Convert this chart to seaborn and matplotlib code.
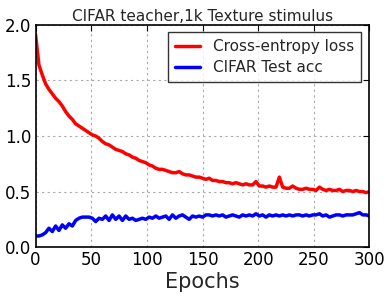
import numpy as np
import pandas as pd
import matplotlib
matplotlib.use("Agg")
import matplotlib.pyplot as plt
import seaborn as sns

epochs = list(range(0, 301, 3))
loss = [1.91, 1.64, 1.55, 1.47, 1.42, 1.38, 1.34, 1.31, 1.27, 1.22,
        1.18, 1.15, 1.11, 1.09, 1.07, 1.05, 1.03, 1.01, 1.00, 0.98,
        0.95, 0.93, 0.92, 0.90, 0.88, 0.87, 0.86, 0.84, 0.83, 0.81,
        0.80, 0.78, 0.77, 0.76, 0.74, 0.73, 0.71, 0.70, 0.70, 0.69,
        0.68, 0.67, 0.67, 0.68, 0.66, 0.65, 0.65, 0.64, 0.63, 0.63,
        0.62, 0.61, 0.62, 0.60, 0.60, 0.59, 0.59, 0.58, 0.58, 0.57,
        0.58, 0.57, 0.56, 0.57, 0.56, 0.56, 0.59, 0.55, 0.55, 0.54,
        0.55, 0.54, 0.54, 0.63, 0.54, 0.53, 0.53, 0.55, 0.53, 0.52,
        0.52, 0.53, 0.52, 0.52, 0.51, 0.54, 0.52, 0.51, 0.52, 0.51,
        0.51, 0.52, 0.50, 0.51, 0.51, 0.50, 0.51, 0.50, 0.50, 0.49,
        0.50]
acc = [0.10, 0.10, 0.11, 0.13, 0.17, 0.14, 0.19, 0.15, 0.20, 0.17,
       0.21, 0.19, 0.24, 0.26, 0.27, 0.27, 0.27, 0.26, 0.23, 0.26,
       0.25, 0.28, 0.24, 0.29, 0.25, 0.28, 0.24, 0.28, 0.25, 0.26,
       0.24, 0.25, 0.26, 0.25, 0.27, 0.26, 0.28, 0.26, 0.27, 0.28,
       0.25, 0.29, 0.26, 0.28, 0.29, 0.27, 0.25, 0.28, 0.27, 0.28,
       0.27, 0.29, 0.29, 0.28, 0.29, 0.28, 0.29, 0.27, 0.28, 0.29,
       0.28, 0.27, 0.29, 0.28, 0.29, 0.28, 0.30, 0.28, 0.29, 0.27,
       0.29, 0.28, 0.29, 0.28, 0.29, 0.28, 0.29, 0.28, 0.29, 0.29,
       0.28, 0.29, 0.28, 0.29, 0.29, 0.30, 0.28, 0.29, 0.27, 0.28,
       0.29, 0.29, 0.28, 0.29, 0.29, 0.29, 0.30, 0.31, 0.29, 0.29,
       0.28]
series_names = ["Cross-entropy loss", "CIFAR Test acc"]
title = "CIFAR teacher,1k Texture stimulus"
xlabel = "Epochs"
xticks = [0, 50, 100, 150, 200, 250, 300]
yticks = [0.0, 0.5, 1.0, 1.5, 2.0]

sns.set_theme(style="white")
plt.rcParams['font.family'] = ['DejaVu Sans']

fig = plt.figure(figsize=(3.91, 2.97), dpi=100)
ax = fig.add_axes([0.091, 0.168, 0.854, 0.748])

sns.lineplot(x=epochs, y=loss, color="red", lw=2.5, label=series_names[0], ax=ax)
sns.lineplot(x=epochs, y=acc, color="blue", lw=2.5, label=series_names[1], ax=ax)

ax.set_xlim(0, 300)
ax.set_ylim(0, 2.0)
ax.set_xticks(xticks)
ax.set_yticks(yticks)
ax.set_xticklabels([str(t) for t in xticks])
ax.set_yticklabels([f"{t:.1f}" for t in yticks])
ax.tick_params(direction="in", top=True, right=True, length=4, width=0.8,
               labelsize=12, colors="black", pad=3)
ax.grid(True, color="#a8a8a8", linestyle=(0, (2, 3)), linewidth=0.8)
for s in ax.spines.values():
    s.set_color("black")
    s.set_linewidth(1.2)
ax.set_title(title, fontsize=11, pad=3)
ax.set_xlabel(xlabel, fontsize=15, labelpad=2)

leg = ax.legend(loc="upper right", fontsize=11, frameon=True, fancybox=False,
                edgecolor="black", handlelength=1.6, handletextpad=0.9,
                borderpad=0.45, labelspacing=0.4, borderaxespad=0,
                bbox_to_anchor=(0.976, 0.968))
leg.get_frame().set_linewidth(1.0)
for h in leg.get_lines():
    h.set_linewidth(2.5)

fig.savefig("out.png", dpi=100)
